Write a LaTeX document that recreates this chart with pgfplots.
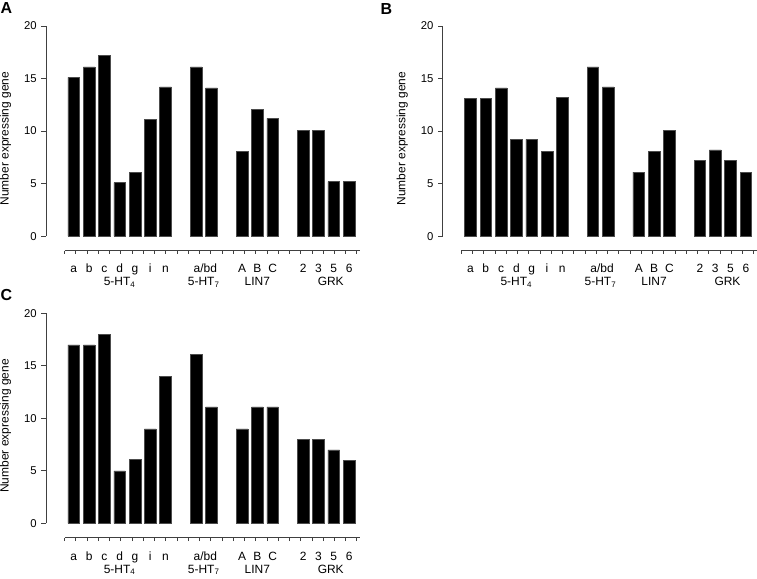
\documentclass[border=0pt]{standalone}
\usepackage{fontspec}
\setmainfont{Liberation Sans}
\usepackage{pgfplots}
\pgfplotsset{compat=1.18}

\pgfplotsset{
  panel/.style={
    ybar, bar width=0.76,
    x=11.5pt, y=7.9pt,
    xmin=-0.6, xmax=18.7, ymin=0, ymax=20,
    axis x line*=bottom, axis y line*=left,
    axis x line shift=10.9pt, axis y line shift=13.9pt,
    axis line style={black!75, line width=0.7pt},
    tick align=outside,
    major tick length=3.5pt, minor tick length=2.5pt,
    tick style={black!75, line width=0.6pt},
    ytick={0,5,10,15,20},
    xtick={0,1,2,3,4,5,6,8.6,11,12,13,15,16,17,18},
    xticklabels={a,b,c,d,g,i,n,a/bd,A,B,C,2,3,5,6},
    major x tick style={draw=none},
    minor xtick={-0.6,0.135,...,18.6},
    /pgf/number format/assume math mode=true,
    yticklabel style={font=\fontsize{8.5}{10}\selectfont},
    xticklabel style={font=\fontsize{9}{11}\selectfont, anchor=base, inner sep=0pt, yshift=-13.3pt},
    ylabel={Number expressing gene},
    ylabel style={at={(axis description cs:-0.2,0.464)}, anchor=center, inner sep=0pt, font=\fontsize{9}{11}\selectfont},
    clip=false,
  },
}
\tikzset{
  blk/.style={fill=black, draw=black!70, line width=0.4pt},
  grp/.style={anchor=base, yshift=-37.3pt, font=\fontsize{9}{11}\selectfont},
  letter/.style={inner xsep=0pt, inner ysep=2pt, font=\fontsize{12}{14}\selectfont\bfseries},
}

\newcommand{\grouplabels}{%
  \node[grp] at (axis cs:3,0) {5-HT\textsubscript{4}};
  \node[grp] at (axis cs:8.5,0) {5-HT\textsubscript{7}};
  \node[grp] at (axis cs:12,0) {LIN7};
  \node[grp] at (axis cs:16.8,0) {GRK};
}

\begin{document}
\begin{tikzpicture}
% A
\begin{axis}[panel, at={(0,0)}, anchor=origin]
\addplot[blk] coordinates {(0,15.1) (1,16.1) (2,17.2) (3,5.1) (4,6.1) (5,11.1) (6,14.2)
  (8,16.1) (9,14.1) (11,8.1) (12,12.1) (13,11.2) (15,10.1) (16,10.1) (17,5.2) (18,5.2)};
\grouplabels
\node[letter] at (axis cs:-4.4,21.7) {A};
\end{axis}
% B
\begin{axis}[panel, at={(298.3pt,0)}, anchor=origin]
\addplot[blk] coordinates {(0,13.1) (1,13.1) (2,14.1) (3,9.2) (4,9.2) (5,8.1) (6,13.2)
  (8,16.1) (9,14.2) (11,6.1) (12,8.1) (13,10.1) (15,7.2) (16,8.2) (17,7.2) (18,6.1)};
\grouplabels
\node[letter] at (axis cs:-5.5,21.6) {B};
\end{axis}
% C
\begin{axis}[panel, at={(0,-216pt)}, anchor=origin]
\addplot[blk] coordinates {(0,17) (1,17) (2,18) (3,5) (4,6.1) (5,9) (6,14)
  (8,16.1) (9,11.1) (11,9) (12,11.1) (13,11.1) (15,8) (16,8) (17,7) (18,6)};
\grouplabels
\node[letter] at (axis cs:-4.4,21.7) {C};
\end{axis}
\end{tikzpicture}
\end{document}
